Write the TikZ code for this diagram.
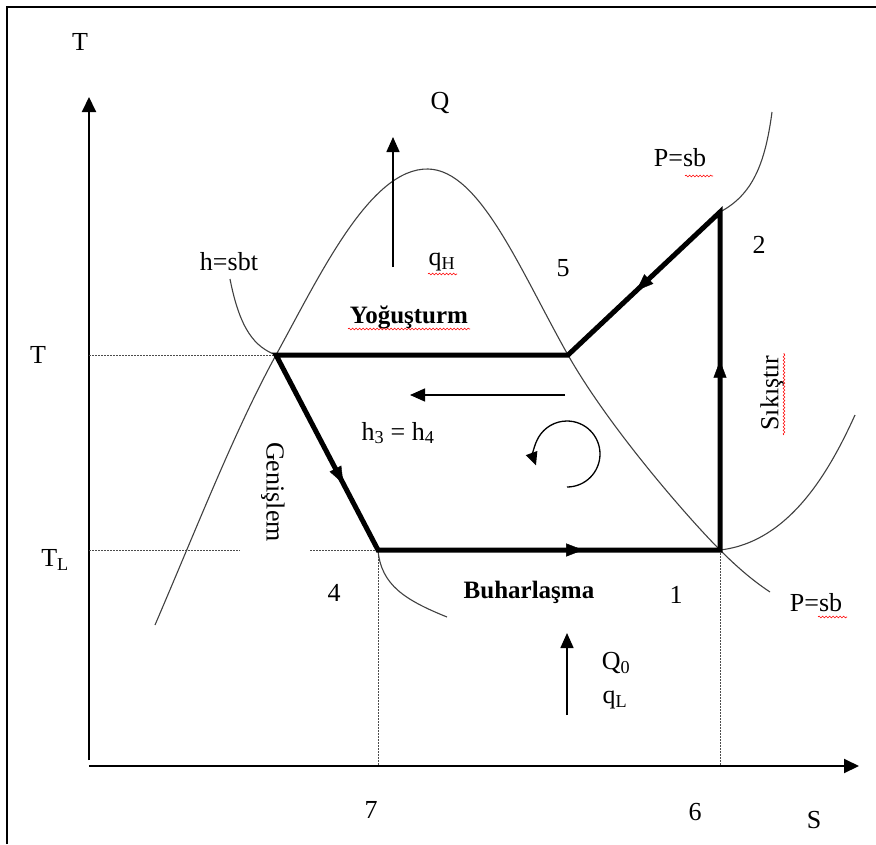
\documentclass[tikz,border=0pt]{standalone}
\usepackage{fontspec}
\setmainfont{Liberation Serif}
\usetikzlibrary{arrows.meta,decorations.markings,decorations.pathmorphing}
\begin{document}
\begin{tikzpicture}[x=1pt,y=-1pt,
  lbl/.style={inner sep=0pt, font=\fontsize{26}{28}\selectfont},
  blbl/.style={lbl, font=\fontsize{25}{27}\selectfont\bfseries},
  thincurve/.style={line width=1.1pt, black!75},
  axisline/.style={line width=2pt, -{Triangle[length=15pt,width=14pt]}},
  dotline/.style={line width=1pt, black!70, dash pattern=on 1.5pt off 1.5pt},
  cyc/.style={line width=5pt, line join=miter},
  flowarrow/.style={line width=1.6pt, -{Triangle[length=15pt,width=13pt]}},
  tipat/.style={decoration={markings, mark=at position #1 with {\arrow{Triangle[length=17pt,width=13pt]}}}, decorate},
  spell/.style={red, line width=0.6pt, decorate, decoration={snake, amplitude=0.9pt, segment length=3.5pt}}
]
\useasboundingbox (0,0) rectangle (876,844);
% frame
\draw[line width=2.8pt] (7,844) -- (7,7) -- (876,7);

% axes
\coordinate (O) at (89,766);
\coordinate (Ttip) at (89,97);
\coordinate (Stip) at (859,766);
\draw[axisline] (89,760) -- (Ttip);
\draw[axisline] (89,766) -- (Stip);

% cycle points
\coordinate (p3) at (276,355);
\coordinate (p5) at (568,355);
\coordinate (p2) at (720,212);
\coordinate (p1) at (720,550);
\coordinate (p4) at (378,550);
\coordinate (a6) at (720,766);
\coordinate (a7) at (378,766);

% dotted helper lines
\draw[dotline] (89,355) -- (p3);
\draw[dotline] (89,550) -- (240,550);
\draw[dotline] (310,550) -- (p4);
\draw[dotline] (p4) -- (a7);
\draw[dotline] (p1) -- (a6);

% saturation dome
\draw[thincurve] (155,625) .. controls (200,520) and (235,430) .. (p3)
  .. controls (320,275) and (370,168) .. (428,169)
  .. controls (480,170) and (520,270) .. (p5)
  .. controls (610,429) and (690,520) .. (p1)
  .. controls (740,570) and (755,582) .. (770,592);
% isobars / isenthalps
\draw[thincurve] (p2) .. controls (752,195) and (765,165) .. (772,112);
\draw[thincurve] (p1) .. controls (790,542) and (830,470) .. (855,415);
\draw[thincurve] (230,279) .. controls (240,330) and (255,347) .. (p3);
\draw[thincurve] (p4) .. controls (381,585) and (405,600) .. (447,617);

% cycle
\draw[cyc] (p3) -- (p5) -- (p2) -- (p1) -- (p4) -- cycle;
\path[tipat=0.55] (p2) -- (p5);
\path[tipat=0.56] (p1) -- (p2);
\path[tipat=0.60] (p4) -- (p1);
\path[tipat=0.66] (p3) -- (p4);

% heat arrows
\coordinate (qhs) at (393,267);
\coordinate (qht) at (393,137);
\draw[flowarrow] (qhs) -- (qht);
\coordinate (qls) at (567,715);
\coordinate (qlt) at (567,633);
\draw[flowarrow] (qls) -- (qlt);
\coordinate (hs) at (565,395);
\coordinate (ht) at (410,395);
\draw[flowarrow, line width=1.4pt] (hs) -- (ht);
% circular arrow
\coordinate (cc) at (567,454);
\draw[line width=1.3pt, -{Triangle[length=13pt,width=12pt]}] (cc) ++(90:33) arc[start angle=90, end angle=-200, radius=33];

% labels
\node[lbl] (lT) at (80,42) {T};
\node[lbl] (lTm) at (38,355) {T};
\node[lbl] (lTL) at (55,560) {T\textsubscript{L}};
\node[lbl] (lS) at (814,820) {S};
\node[lbl] (l7) at (371,810) {7};
\node[lbl] (l6) at (695,812) {6};
\node[lbl] (lQ) at (440,103) {Q};
\node[lbl] (lqH) at (442,262) {q\textsubscript{H}};
\node[lbl] (l5) at (563,268) {5};
\node[lbl] (lPt) at (680,158) {P=sb};
\node[lbl] (l2) at (759,245) {2};
\node[lbl] (lhs) at (229,262) {h=sbt};
\node[blbl] (lYog) at (409,317) {Yoğuşturm};
\node[lbl] (lh34) at (398,433) {h\textsubscript{3} = h\textsubscript{4}};
\node[lbl, rotate=-90] (lGen) at (273,492) {Genişlem};
\node[lbl, rotate=90] (lSik) at (772,393) {Sıkıştır};
\node[lbl] (l4) at (334,593) {4};
\node[blbl] (lBuh) at (529,592) {Buharlaşma};
\node[lbl] (l1) at (676,595) {1};
\node[lbl] (lPb) at (816,603) {P=sb};
\node[lbl] (lQ0) at (616,663) {Q\textsubscript{0}};
\node[lbl] (lqL) at (615,700) {q\textsubscript{L}};

% spell-check underlines
\draw[spell] (428,274) -- (457,274);
\draw[spell] (348,329) -- (470,329);
\draw[spell] (685,176) -- (713,176);
\draw[spell] (818,617) -- (847,617);
\draw[spell] (784,435) -- (784,353);
\end{tikzpicture}
\end{document}
